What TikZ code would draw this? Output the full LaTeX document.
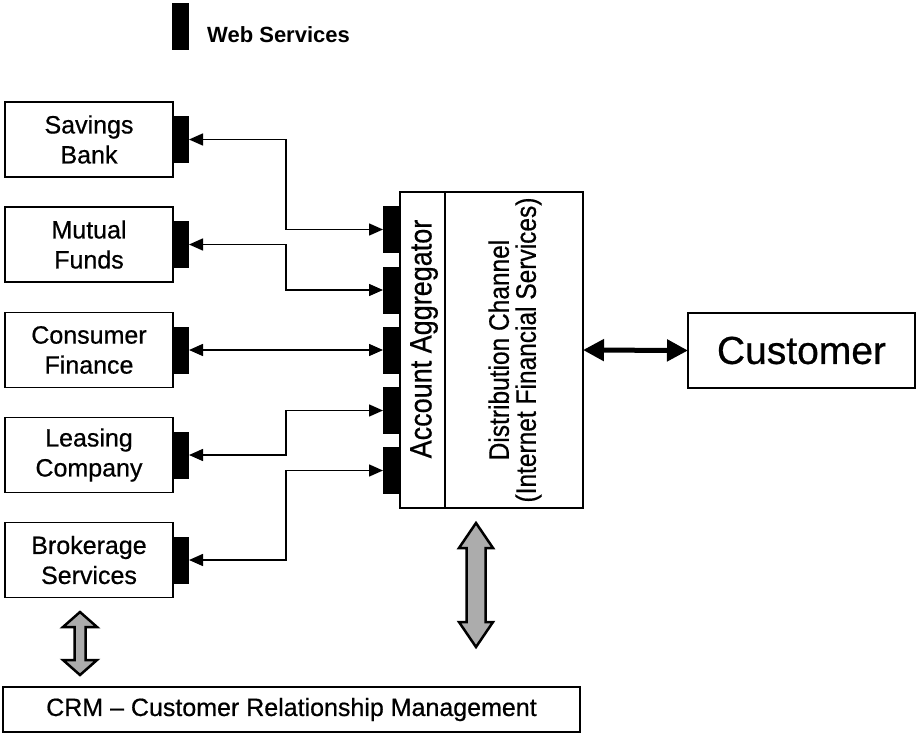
\documentclass[tikz,border=0pt]{standalone}
\usepackage{fontspec}
\setmainfont{Liberation Sans}
\newfontfamily\heavy{Liberation Sans}[FakeBold=0.6,Ligatures=TeX]
\usepackage{graphicx}
\usetikzlibrary{arrows.meta}
\begin{document}
\begin{tikzpicture}[x=1pt,y=-1pt,
  box/.style={draw=black, line width=1.6pt, fill=white, outer sep=0pt, inner sep=0pt},
  srcbox/.style={box, minimum width=168pt, minimum height=75pt, align=center,
     font=\heavy\fontsize{25}{30}\selectfont},
  wstab/.style={fill=black, draw=none, outer sep=0pt, inner sep=0pt, minimum width=16pt, minimum height=47pt},
  conn/.style={line width=1.5pt, {Triangle[length=14pt,width=12pt]}-{Triangle[length=14pt,width=12pt]}},
  thickarr/.style={line width=5pt, {Triangle[length=21pt,width=21pt]}-{Triangle[length=21pt,width=21pt]}},
  grayarr/.style={draw=black, line width=2.5pt, line join=miter, fill=gray!65}
]
\useasboundingbox (0,0) rectangle (918,736);

% legend
\node[wstab, minimum width=17pt] (legtab) at (180.5,26.5) {};
\node[anchor=west, inner sep=0pt, font=\fontsize{22}{24}\selectfont\bfseries] (legtext) at (207,34.5) {Web Services};

% source boxes
\node[srcbox] (s1) at (89,139.5) {Savings\\Bank};
\node[srcbox] (s2) at (89,244.5) {Mutual\\Funds};
\node[srcbox] (s3) at (89,350) {Consumer\\Finance};
\node[srcbox] (s4) at (89,455) {Leasing\\Company};
\node[srcbox] (s5) at (89,560) {Brokerage\\Services};

% left tabs
\node[wstab] (t1) at (181,139.5) {};
\node[wstab] (t2) at (181,244.5) {};
\node[wstab] (t3) at (181,350) {};
\node[wstab] (t4) at (181,455) {};
\node[wstab] (t5) at (181,560) {};

% main box
\node[box, minimum width=45pt, minimum height=316pt] (agg) at (422.5,350) {};
\node[box, minimum width=138pt, minimum height=316pt] (dist) at (514,350) {};
\node[rotate=90, inner sep=0pt, font=\heavy\fontsize{27}{30}\selectfont] (aggtext) at (424,339)
  {\scalebox{1}[1.15]{Account Aggregator}};
\node[rotate=90, inner sep=0pt, align=center, font=\heavy\fontsize{24.5}{27}\selectfont] (disttext) at (515,350)
  {\scalebox{1}[1.15]{Distribution Channel}\\\scalebox{1}[1.15]{(Internet Financial Services)}};

% right tabs
\node[wstab, minimum width=17pt] (r1) at (391.5,229.5) {};
\node[wstab, minimum width=17pt] (r2) at (391.5,290) {};
\node[wstab, minimum width=17pt] (r3) at (391.5,350) {};
\node[wstab, minimum width=17pt] (r4) at (391.5,410.5) {};
\node[wstab, minimum width=17pt] (r5) at (391.5,470.5) {};

% bend column
\coordinate (bx) at (286,0);

% connectors
\draw[conn] (t1.east) -- (t1.east -| bx) |- (r1.west);
\draw[conn] (t2.east) -- (t2.east -| bx) |- (r2.west);
\draw[conn] (t3.east) -- (r3.west);
\draw[conn] (t4.east) -- (t4.east -| bx) |- (r4.west);
\draw[conn] (t5.east) -- (t5.east -| bx) |- (r5.west);

% customer
\node[box, minimum width=227pt, minimum height=75pt, font=\heavy\fontsize{39}{44}\selectfont] (cust) at (801.5,350.5) {Customer};
\draw[thickarr] (dist.east) -- (cust.west);

% CRM
\node[box, minimum width=577pt, minimum height=45pt, font=\heavy\fontsize{25}{30}\selectfont] (crm) at (291.5,709.5) {CRM – Customer Relationship Management};

% gray double arrows
\draw[grayarr] (80,612) -- (97,627) -- (85.5,627) -- (85.5,660) -- (97,660) -- (80,675)
  -- (63,660) -- (74.5,660) -- (74.5,627) -- (63,627) -- cycle;
\draw[grayarr] (476,523) -- (493,548) -- (485.5,548) -- (485.5,622) -- (493,622) -- (476,647)
  -- (459,622) -- (466.5,622) -- (466.5,548) -- (459,548) -- cycle;
\end{tikzpicture}
\end{document}
